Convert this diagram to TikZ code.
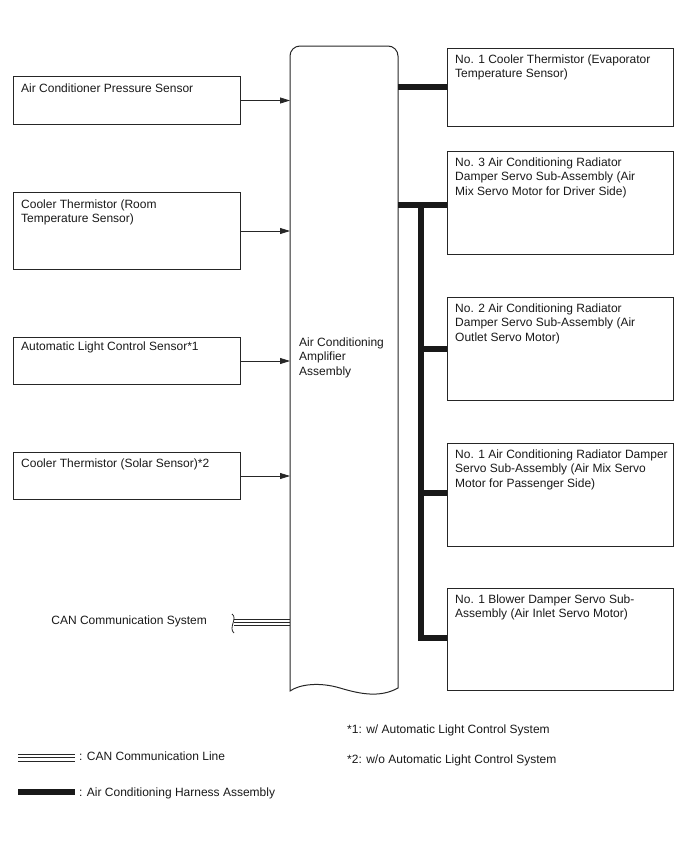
\documentclass[tikz,border=0pt]{standalone}
\usepackage{fontspec}
\setmainfont{Liberation Sans}
\usetikzlibrary{arrows.meta}
\begin{document}
\begin{tikzpicture}[x=1pt,y=-1pt,
  box/.style={draw=black!85,line width=1pt,inner sep=0pt,anchor=north west},
  txt/.style={anchor=north west,inner sep=0pt,align=left,font=\fontsize{12}{14.4}\selectfont,text=black!90},
  sig/.style={draw=black!85,line width=0.8pt,-{Triangle[length=10pt,width=6pt]}},
  harness/.style={draw=black!90,line width=6pt},
  canline/.style={draw=black!85,line width=0.8pt}]
\useasboundingbox (0,0) rectangle (688,852);

% left sensor boxes
\node[box,minimum width=227pt,minimum height=48pt] (l1) at (13,76) {};
\node[box,minimum width=227pt,minimum height=77pt] (l2) at (13,192) {};
\node[box,minimum width=227pt,minimum height=47pt] (l3) at (13,337) {};
\node[box,minimum width=227pt,minimum height=47pt] (l4) at (13,452) {};
\node[txt] (t1) at (21,83.5) {Air Conditioner Pressure Sensor};
\node[txt] (t2) at (21,199.5) {Cooler Thermistor (Room\\Temperature Sensor)};
\node[txt] (t3) at (21,342) {Automatic Light Control Sensor*1};
\node[txt] (t4) at (21,458.5) {Cooler Thermistor (Solar Sensor)*2};

% amplifier
\node[minimum width=108pt,minimum height=640pt,inner sep=0pt,anchor=north west] (amp) at (290,46) {};
\draw[draw=black!85,line width=1pt]
  (290,691) [rounded corners=10pt] -- (290,46) -- (398,46) [sharp corners] -- (398,688)
  .. controls (380,698) and (360,694) .. (340,688)
  .. controls (320,682) and (300,684) .. (290,691) -- cycle;
\node[txt] (tamp) at (299,337.5) {Air Conditioning\\Amplifier\\Assembly};

% arrows
\draw[sig] (l1.east) -- (l1.east -| amp.west);
\draw[sig] (l2.east) -- (l2.east -| amp.west);
\draw[sig] (l3.east) -- (l3.east -| amp.west);
\draw[sig] (l4.east) -- (l4.east -| amp.west);

% right boxes
\node[box,minimum width=226pt,minimum height=78pt] (r1) at (447,48) {};
\node[box,minimum width=226pt,minimum height=103pt] (r2) at (447,151) {};
\node[box,minimum width=226pt,minimum height=103pt] (r3) at (447,297) {};
\node[box,minimum width=226pt,minimum height=103pt] (r4) at (447,443) {};
\node[box,minimum width=226pt,minimum height=102pt] (r5) at (447,588) {};
\node[txt] (s1) at (455,54.5) {No. 1 Cooler Thermistor (Evaporator\\Temperature Sensor)};
\node[txt] (s2) at (455,157.5) {No. 3 Air Conditioning Radiator\\Damper Servo Sub-Assembly (Air\\Mix Servo Motor for Driver Side)};
\node[txt] (s3) at (455,303.5) {No. 2 Air Conditioning Radiator\\Damper Servo Sub-Assembly (Air\\Outlet Servo Motor)};
\node[txt] (s4) at (455,449.5) {No. 1 Air Conditioning Radiator Damper\\Servo Sub-Assembly (Air Mix Servo\\Motor for Passenger Side)};
\node[txt] (s5) at (455,594.5) {No. 1 Blower Damper Servo Sub-\\Assembly (Air Inlet Servo Motor)};

% harness
\coordinate (h1) at (398,87);
\coordinate (h2) at (398,205);
\coordinate (tr) at (421,205);
\draw[harness] (h1) -- (h1 -| r1.west);
\draw[harness] (h2) -- (h2 -| r2.west);
\draw[harness,line join=miter] (tr) -- (421,638) -- (447,638 -| r5.west);
\draw[harness] (421,349) -- (421,349 -| r3.west);
\draw[harness] (421,493) -- (421,493 -| r4.west);

% CAN
\coordinate (canL) at (234,622.7);
\draw[canline] ([yshift=-3pt]canL) -- ([yshift=-3pt]canL -| amp.west);
\draw[canline] (canL) -- (canL -| amp.west);
\draw[canline] ([yshift=3pt]canL) -- ([yshift=3pt]canL -| amp.west);
\draw[draw=black!85,line width=0.8pt] (232,614) .. controls (238,618) and (228,628) .. (234,633);
\node[anchor=east,inner sep=0pt,font=\fontsize{12}{14.4}\selectfont,text=black!90] (cantxt) at (207,621) {CAN Communication System};

% footnotes
\node[anchor=west,inner sep=0pt,font=\fontsize{12}{14.4}\selectfont,text=black!90] (f1) at (347,730) {*1: w/ Automatic Light Control System};
\node[anchor=west,inner sep=0pt,font=\fontsize{12}{14.4}\selectfont,text=black!90] (f2) at (347,760) {*2: w/o Automatic Light Control System};

% legend
\coordinate (lgA) at (18,757.5);
\coordinate (lgB) at (18,792);
\draw[canline] ([yshift=-3.5pt]lgA) -- ++(57,0);
\draw[canline] (lgA) -- ++(57,0);
\draw[canline] ([yshift=3.5pt]lgA) -- ++(57,0);
\draw[harness] (lgB) -- ++(57,0);
\node[anchor=west,inner sep=0pt,font=\fontsize{12}{14.4}\selectfont,text=black!90] (lg1) at (79,756) {: CAN Communication Line};
\node[anchor=west,inner sep=0pt,font=\fontsize{12}{14.4}\selectfont,text=black!90] (lg2) at (79,793) {: Air Conditioning Harness Assembly};
\end{tikzpicture}
\end{document}
